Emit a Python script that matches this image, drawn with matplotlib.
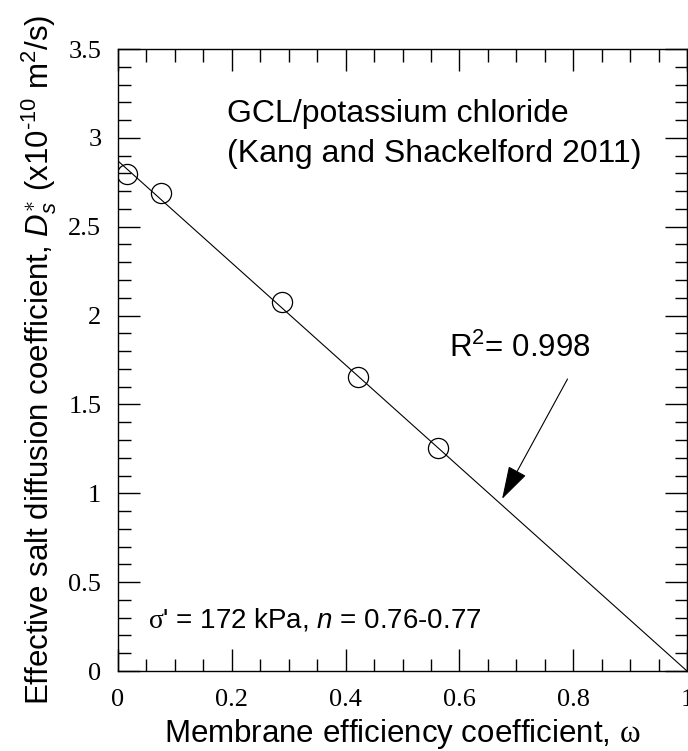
import matplotlib
matplotlib.use("Agg")
import matplotlib.pyplot as plt
from matplotlib.ticker import MultipleLocator

# ---- data ----
omega = [0.015, 0.076, 0.288, 0.421, 0.562]
d_star = [2.797, 2.688, 2.078, 1.656, 1.257]
fit_x = [0.0, 1.0]
fit_y = [2.87, 0.0]
r2_label = "R$^{2}$= 0.998"
arrow_tip = (0.675, 0.968)
arrow_tail = (0.790, 1.643)

plt.rcParams['mathtext.fontset'] = 'custom'
plt.rcParams['mathtext.rm'] = 'Liberation Sans'
plt.rcParams['mathtext.it'] = 'Liberation Sans:italic'
plt.rcParams['mathtext.tt'] = 'Liberation Serif'
plt.rcParams['font.family'] = ['Liberation Sans', 'DejaVu Sans']

fig = plt.figure(figsize=(6.88, 7.51), dpi=100)
ax = fig.add_axes([118/688, (751-671)/751, (687-118)/688, (671-49)/751])

ax.plot(fit_x, fit_y, color='black', lw=0.8)
ax.plot(omega, d_star, linestyle='none', marker='o', ms=14.5,
        mfc='none', mec='black', mew=0.9)

ax.annotate('', xy=arrow_tip, xytext=arrow_tail,
            arrowprops=dict(arrowstyle='-|>,head_length=1.4,head_width=0.42',
                            mutation_scale=15, color='black', lw=0.8,
                            shrinkA=0, shrinkB=0))

ax.set_xlim(0, 1)
ax.set_ylim(0, 3.5)
ax.xaxis.set_major_locator(MultipleLocator(0.2))
ax.xaxis.set_minor_locator(MultipleLocator(0.05))
ax.yaxis.set_major_locator(MultipleLocator(0.5))
ax.yaxis.set_minor_locator(MultipleLocator(0.1))
ax.tick_params(which='both', direction='in', top=True, right=True, width=1)
ax.tick_params(which='major', length=16)
ax.tick_params(which='minor', length=9)
ax.tick_params(axis='x', which='major', pad=13)
ax.tick_params(axis='y', which='major', pad=12)
ax.set_xticks([0, 0.2, 0.4, 0.6, 0.8, 1.0])
ax.set_xticklabels(['0', '0.2', '0.4', '0.6', '0.8', '1'])
ax.set_yticks([0, 0.5, 1, 1.5, 2, 2.5, 3, 3.5])
ax.set_yticklabels(['0', '0.5', '1', '1.5', '2', '2.5', '3', '3.5'])
for lab in ax.get_xticklabels() + ax.get_yticklabels():
    lab.set_fontfamily('Liberation Serif')
    lab.set_fontsize(19)
for s in ax.spines.values():
    s.set_linewidth(1)

ax.set_xlabel(r"Membrane efficiency coefficient, $\mathtt{\omega}$", fontsize=22.5, labelpad=4)
ax.set_ylabel(r"Effective salt diffusion coefficient, $D_s^{\ast}$ (x10$^{\text{-}10}$ m$^{2}$/s)",
              fontsize=22.5)
ax.yaxis.set_label_coords(-0.104, 0.5)

ax.text(0.1916, 3.089, "GCL/potassium chloride", fontsize=23, ha='left', va='baseline')
ax.text(0.1916, 2.866, "(Kang and Shackelford 2011)", fontsize=23, ha='left', va='baseline')
ax.text(0.0527, 0.242, r"$\mathtt{\sigma}$' = 172 kPa, $n$ = 0.76-0.77", fontsize=20,
        ha='left', va='baseline')
ax.text(0.582, 1.765, r2_label, fontsize=22.5, ha='left', va='baseline')

fig.savefig("out.png", dpi=100, facecolor='white')
